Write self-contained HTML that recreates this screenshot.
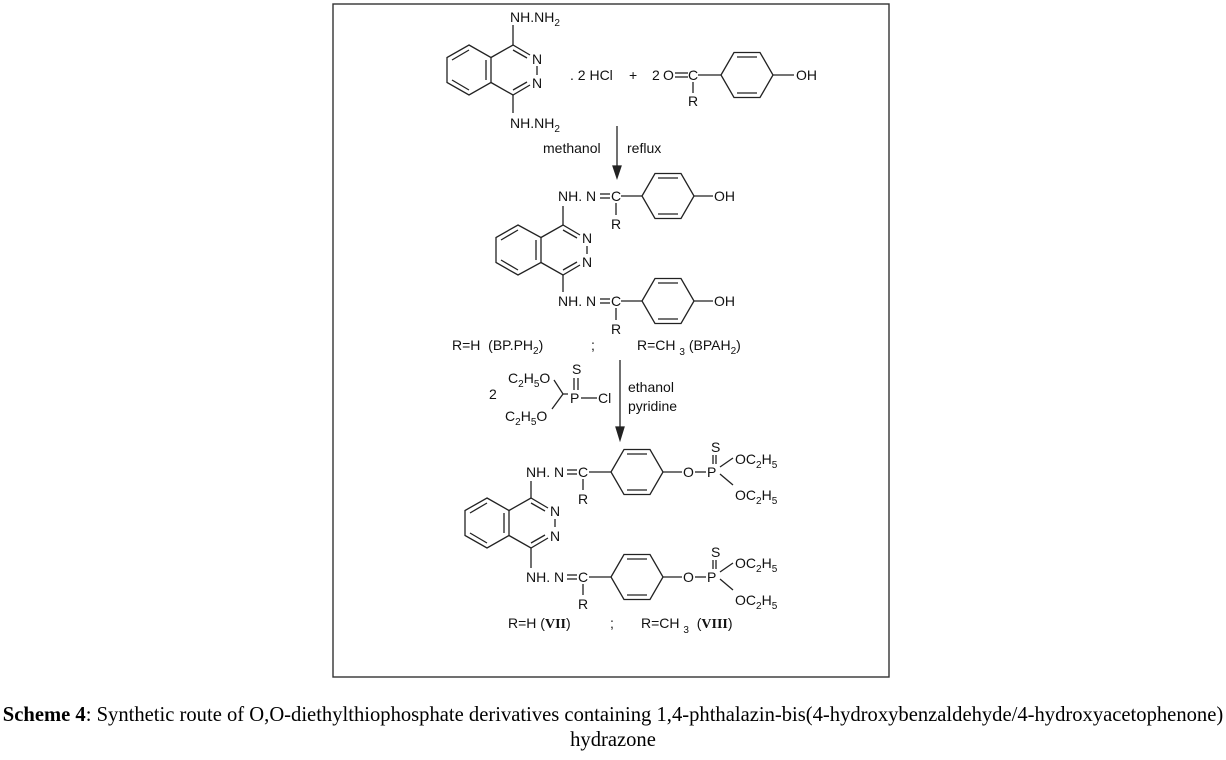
<!DOCTYPE html>
<html><head><meta charset="utf-8"><style>
html,body{margin:0;padding:0;background:#fff;}
body{width:1226px;height:760px;position:relative;overflow:hidden;}
svg text{font-family:"Liberation Sans",sans-serif;font-size:14px;fill:#111;}
.cap{position:absolute;left:0;width:1226px;text-align:center;font-family:"Liberation Serif",serif;font-size:20.6px;color:#000;}
</style></head><body>
<svg width="1226" height="760" style="position:absolute;left:0;top:0" stroke="#222" stroke-width="1.3" fill="none">
<rect x="333" y="4" width="556" height="673" stroke="#333" stroke-width="1.4"/>
<!-- Compound 1 -->
<polygon points="469,45 491,57.5 491,82.5 469,95 447,82.5 447,57.5"/>
<line x1="452" y1="60" x2="469" y2="50"/><line x1="452" y1="80" x2="469" y2="90"/><line x1="486" y1="60" x2="486" y2="80"/>
<polyline points="491,57.5 513,45 530,55"/><line x1="513" y1="50" x2="527" y2="58"/>
<line x1="537" y1="66" x2="537" y2="75"/>
<polyline points="530,85 513,95 491,82.5"/><line x1="513" y1="90" x2="527" y2="82"/>
<line x1="513" y1="45" x2="513" y2="25"/><line x1="513" y1="95" x2="513" y2="113"/>
<g stroke="none"><text x="510" y="22">NH.NH<tspan font-size="10" dy="4">2</tspan></text>
<text x="532" y="64">N</text><text x="532" y="88">N</text>
<text x="510" y="128">NH.NH<tspan font-size="10" dy="4">2</tspan></text>
<text x="570" y="80">. 2 HCl</text><text x="629" y="80">+</text><text x="652" y="80">2</text><text x="663" y="80">O</text>
<text x="688" y="80">C</text><text x="688" y="106">R</text><text x="796" y="80">OH</text></g>
<line x1="675" y1="73" x2="688" y2="73"/><line x1="675" y1="77" x2="688" y2="77"/>
<line x1="698" y1="75" x2="721" y2="75"/><line x1="693" y1="82" x2="693" y2="93"/>
<polygon points="721,75 734,52.5 760,52.5 773,75 760,97.5 734,97.5"/>
<line x1="737" y1="57" x2="757" y2="57"/><line x1="737" y1="93" x2="757" y2="93"/>
<line x1="773" y1="75" x2="794" y2="75"/>
<!-- arrow 1 -->
<line x1="617" y1="126" x2="617" y2="170"/><polygon points="613,166 621,166 617,178" fill="#222"/>
<g stroke="none"><text x="543" y="153">methanol</text><text x="627" y="153">reflux</text></g>
<!-- Compound 2 -->
<polygon points="518,225 541,237.5 541,262.5 518,275 496,262.5 496,237.5"/>
<line x1="501" y1="240" x2="518" y2="230"/><line x1="501" y1="260" x2="518" y2="270"/><line x1="536" y1="240" x2="536" y2="260"/>
<polyline points="541,237.5 563,225 580,235"/><line x1="563" y1="230" x2="577" y2="238"/>
<line x1="587" y1="246" x2="587" y2="254"/>
<polyline points="580,265 563,275 541,262.5"/><line x1="563" y1="270" x2="577" y2="262"/>
<line x1="563" y1="225" x2="563" y2="206"/><line x1="563" y1="275" x2="563" y2="292"/>
<g stroke="none"><text x="558" y="201">NH. N</text><text x="611" y="201">C</text><text x="611" y="229">R</text><text x="714" y="201">OH</text>
<text x="582" y="243">N</text><text x="582" y="267">N</text>
<text x="558" y="306">NH. N</text><text x="611" y="306">C</text><text x="611" y="334">R</text><text x="714" y="306">OH</text></g>
<line x1="600" y1="194" x2="610" y2="194"/><line x1="600" y1="198" x2="610" y2="198"/>
<line x1="621" y1="196" x2="642" y2="196"/><line x1="616" y1="203" x2="616" y2="215"/>
<polygon points="642,196 655,173.5 681,173.5 694,196 681,218.5 655,218.5"/>
<line x1="658" y1="178" x2="678" y2="178"/><line x1="658" y1="214" x2="678" y2="214"/>
<line x1="694" y1="196" x2="713" y2="196"/>
<line x1="600" y1="299" x2="610" y2="299"/><line x1="600" y1="303" x2="610" y2="303"/>
<line x1="621" y1="301" x2="642" y2="301"/><line x1="616" y1="308" x2="616" y2="320"/>
<polygon points="642,301 655,278.5 681,278.5 694,301 681,323.5 655,323.5"/>
<line x1="658" y1="283" x2="678" y2="283"/><line x1="658" y1="319" x2="678" y2="319"/>
<line x1="694" y1="301" x2="713" y2="301"/>
<g stroke="none"><text x="452" y="350">R=H &#160;(BP.PH<tspan font-size="10" dy="4">2</tspan><tspan dy="-4">)</tspan></text>
<text x="591" y="350">;</text>
<text x="637" y="350">R=CH <tspan font-size="10" dy="5">3</tspan><tspan dy="-5"> (BPAH</tspan><tspan font-size="10" dy="4">2</tspan><tspan dy="-4">)</tspan></text></g>
<!-- arrow 2 -->
<line x1="620" y1="360" x2="620" y2="430"/><polygon points="616,427 624,427 620,440" fill="#222"/>
<g stroke="none"><text x="628" y="392">ethanol</text><text x="628" y="411">pyridine</text>
<text x="489" y="399">2</text>
<text x="508" y="383">C<tspan font-size="10" dy="4">2</tspan><tspan dy="-4">H</tspan><tspan font-size="10" dy="4">5</tspan><tspan dy="-4">O</tspan></text>
<text x="505" y="421">C<tspan font-size="10" dy="4">2</tspan><tspan dy="-4">H</tspan><tspan font-size="10" dy="4">5</tspan><tspan dy="-4">O</tspan></text>
<text x="570" y="403">P</text><text x="598" y="403">Cl</text><text x="572" y="374">S</text></g>
<polyline points="554,380 563,394 568,394"/><line x1="563" y1="394" x2="552" y2="409"/>
<line x1="574" y1="378" x2="574" y2="390"/><line x1="578" y1="378" x2="578" y2="390"/>
<line x1="581" y1="398" x2="597" y2="398"/>
<!-- Compound 3 -->
<polygon points="487,498 509,510.5 509,535.5 487,548 465,535.5 465,510.5"/>
<line x1="470" y1="513" x2="487" y2="503"/><line x1="470" y1="533" x2="487" y2="543"/><line x1="504" y1="513" x2="504" y2="533"/>
<polyline points="509,510.5 531,498 548,508"/><line x1="531" y1="503" x2="545" y2="511"/>
<line x1="555" y1="519" x2="555" y2="527"/>
<polyline points="548,538 531,548 509,535.5"/><line x1="531" y1="543" x2="545" y2="535"/>
<line x1="531" y1="498" x2="531" y2="481"/><line x1="531" y1="548" x2="531" y2="568"/>
<g stroke="none"><text x="526" y="477">NH. N</text><text x="578" y="477">C</text><text x="578" y="504">R</text>
<text x="550" y="516">N</text><text x="550" y="541">N</text>
<text x="683" y="477">O</text><text x="707" y="477">P</text><text x="711" y="452" font-size="11">S</text>
<text x="735" y="464">OC<tspan font-size="10" dy="4">2</tspan><tspan dy="-4">H</tspan><tspan font-size="10" dy="4">5</tspan></text>
<text x="735" y="500">OC<tspan font-size="10" dy="4">2</tspan><tspan dy="-4">H</tspan><tspan font-size="10" dy="4">5</tspan></text>
<text x="526" y="582">NH. N</text><text x="578" y="582">C</text><text x="578" y="609">R</text>
<text x="683" y="582">O</text><text x="707" y="582">P</text><text x="711" y="557" font-size="11">S</text>
<text x="735" y="568">OC<tspan font-size="10" dy="4">2</tspan><tspan dy="-4">H</tspan><tspan font-size="10" dy="4">5</tspan></text>
<text x="735" y="605">OC<tspan font-size="10" dy="4">2</tspan><tspan dy="-4">H</tspan><tspan font-size="10" dy="4">5</tspan></text></g>
<line x1="567" y1="470" x2="577" y2="470"/><line x1="567" y1="474" x2="577" y2="474"/>
<line x1="589" y1="472" x2="611" y2="472"/><line x1="583" y1="479" x2="583" y2="490"/>
<polygon points="611,472 624,449.5 650,449.5 663,472 650,494.5 624,494.5"/>
<line x1="627" y1="454" x2="647" y2="454"/><line x1="627" y1="490" x2="647" y2="490"/>
<line x1="663" y1="472" x2="682" y2="472"/><line x1="695" y1="472" x2="706" y2="472"/>
<line x1="713" y1="455" x2="713" y2="464"/><line x1="716" y1="455" x2="716" y2="464"/>
<line x1="720" y1="467" x2="733" y2="458"/><line x1="720" y1="474" x2="733" y2="485"/>
<line x1="567" y1="575" x2="577" y2="575"/><line x1="567" y1="579" x2="577" y2="579"/>
<line x1="589" y1="577" x2="611" y2="577"/><line x1="583" y1="584" x2="583" y2="595"/>
<polygon points="611,577 624,554.5 650,554.5 663,577 650,599.5 624,599.5"/>
<line x1="627" y1="559" x2="647" y2="559"/><line x1="627" y1="595" x2="647" y2="595"/>
<line x1="663" y1="577" x2="682" y2="577"/><line x1="695" y1="577" x2="706" y2="577"/>
<line x1="713" y1="560" x2="713" y2="569"/><line x1="716" y1="560" x2="716" y2="569"/>
<line x1="720" y1="572" x2="733" y2="563"/><line x1="720" y1="579" x2="733" y2="590"/>
<g stroke="none"><text x="508" y="628">R=H (<tspan font-family="Liberation Serif" font-weight="bold">VII</tspan>)</text>
<text x="610" y="628">;</text>
<text x="641" y="628">R=CH <tspan font-size="10" dy="5">3</tspan><tspan dy="-5"> &#160;(</tspan><tspan font-family="Liberation Serif" font-weight="bold">VIII</tspan>)</text></g>
</svg>
<div class="cap" style="top:704px;white-space:nowrap"><b>Scheme 4</b>: Synthetic route of O,O-diethylthiophosphate derivatives containing 1,4-phthalazin-bis(4-hydroxybenzaldehyde/4-hydroxyacetophenone)</div>
<div class="cap" style="top:729px">hydrazone</div>
</body></html>
